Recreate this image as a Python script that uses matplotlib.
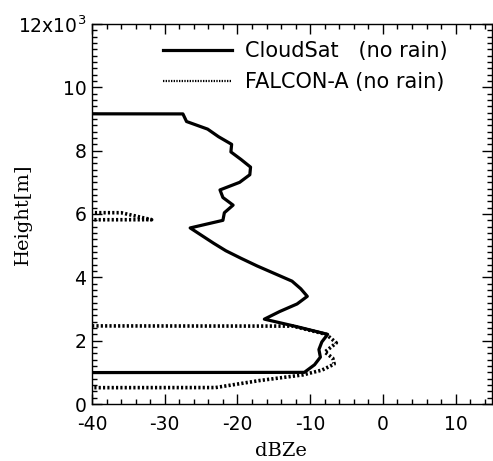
import matplotlib
matplotlib.use('Agg')
import matplotlib.pyplot as plt
import numpy as np
from matplotlib.ticker import MultipleLocator

plt.rcParams['axes.unicode_minus'] = False

FILL = -999.0  # missing value (below/above the echo), clipped by the axis

# CloudSat profile (240 m bins)
cs_height = [0.76, 1.00, 1.24, 1.48, 1.72, 1.96, 2.20, 2.44, 2.68, 2.92,
             3.16, 3.40, 3.64, 3.88, 4.12, 4.36, 4.60, 4.84, 5.08, 5.32,
             5.56, 5.80, 6.04, 6.28, 6.52, 6.76, 7.00, 7.24, 7.48, 7.72,
             7.96, 8.20, 8.44, 8.68, 8.92, 9.16, 9.40]
cs_dbz = [FILL, -10.8, -9.4, -8.6, -8.8, -8.4, -7.6, -11.8, -16.3, -14.2,
          -11.8, -10.4, -11.3, -12.5, -14.9, -17.3, -19.5, -21.6, -23.3, -24.9,
          -26.5, -22.0, -21.8, -20.6, -22.0, -22.4, -19.7, -18.3, -18.2, -19.5,
          -20.9, -20.8, -22.6, -24.1, -27.0, -27.5, FILL]

# FALCON-A profile
fa_height = [0.30, 0.52, 0.74, 0.92, 1.07, 1.26, 1.45, 1.64, 1.93, 2.20,
             2.46, 2.70, 5.60, 5.82, 6.04, 6.30]
fa_dbz = [FILL, -23.0, -17.0, -11.0, -8.4, -6.7, -6.9, -8.0, -6.4, -7.8,
          -12.4, FILL, FILL, -31.8, -36.0, FILL]

ytick_vals = [0, 2, 4, 6, 8, 10, 12]
ytick_labels = ['0', '2', '4', '6', '8', '10', r'12x10$^3$']

sans = ['DejaVu Sans']
serif = ['DejaVu Serif']

fig = plt.figure(figsize=(4.93, 4.61), dpi=100)
ax = fig.add_axes([0.1866, 0.1236, 0.8114, 0.8244])

ax.plot(cs_dbz, np.array(cs_height) * 1000, color='black', lw=2.3,
        label='CloudSat   (no rain)')
ax.plot(fa_dbz, np.array(fa_height) * 1000, color='black', lw=2.6,
        linestyle=(0, (0.6, 0.6)), label='FALCON-A (no rain)')

ax.set_xlim(-40, 15)
ax.set_ylim(0, 12000)
ax.xaxis.set_major_locator(MultipleLocator(10))
ax.xaxis.set_minor_locator(MultipleLocator(2))
ax.set_yticks([v * 1000 for v in ytick_vals])
ax.set_yticklabels(ytick_labels)
ax.yaxis.set_minor_locator(MultipleLocator(200))
ax.tick_params(which='both', direction='in', top=True, right=True,
               width=1.0, labelsize=13.5)
ax.tick_params(axis='x', which='major', pad=8)
ax.tick_params(axis='y', which='major', pad=4)
ax.tick_params(which='major', length=7)
ax.tick_params(which='minor', length=3.5)
for lab in ax.get_xticklabels() + ax.get_yticklabels():
    lab.set_family(sans)
for s in ax.spines.values():
    s.set_linewidth(1.0)

ax.set_xlabel('dBZe', fontsize=14, family=serif)
ax.set_ylabel('Height[m]', fontsize=14, family=serif)
ax.xaxis.set_label_coords(0.4725, -0.1)
ax.yaxis.set_label_coords(-0.15, 0.5)

leg = ax.legend(loc='center left', bbox_to_anchor=(0.1775, 0.888),
                frameon=False, handlelength=3.3, handletextpad=0.62,
                labelspacing=0.55, borderpad=0, borderaxespad=0,
                prop={'family': sans, 'size': 15})
leg.get_lines()[1].set_linewidth(1.6)

fig.savefig('out.png', dpi=100)
